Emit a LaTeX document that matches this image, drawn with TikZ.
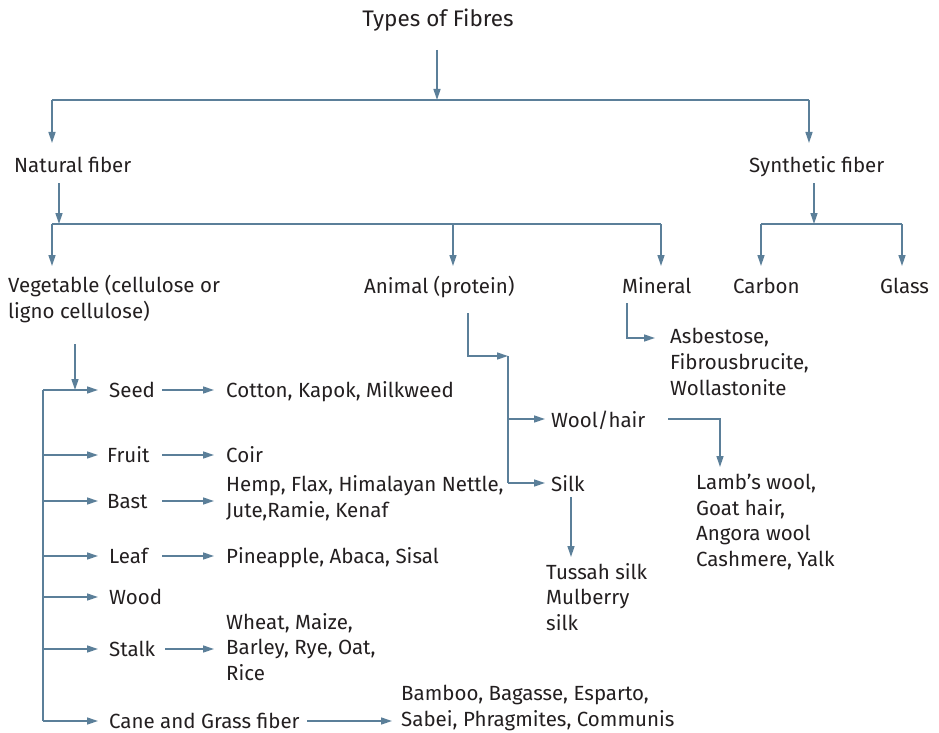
\documentclass[tikz,border=0pt]{standalone}
\usepackage{fontspec}
\setmainfont{Fira Sans}
\usetikzlibrary{arrows.meta}
\definecolor{lncol}{HTML}{5B7F99}
\definecolor{txcol}{HTML}{231F20}
\begin{document}
\begin{tikzpicture}[x=1pt,y=-1pt,
 lbl/.style={inner sep=0pt,text=txcol,font=\fontsize{20.5}{25.6}\selectfont,align=left},
 arr/.style={draw=lncol,line width=1.4pt,-{Triangle[length=11pt,width=7pt]}},
 plain/.style={draw=lncol,line width=1.4pt}]
\useasboundingbox (0,0) rectangle (939,733);
% nodes
\node[lbl,anchor=base,font=\fontsize{22.5}{27}\selectfont] (types) at (438,27) {Types of Fibres};
\node[lbl,anchor=base west] (nat) at (14,172) {Natural fiber};
\node[lbl,anchor=base west] (syn) at (749,172) {Synthetic fiber};
\node[lbl,anchor=west] (veg) at (8,299) {Vegetable (cellulose or\\ligno cellulose)};
\node[lbl,anchor=base west] (ani) at (364,293) {Animal (protein)};
\node[lbl,anchor=base west] (min) at (622,293) {Mineral};
\node[lbl,anchor=base west] (carb) at (733,293) {Carbon};
\node[lbl,anchor=base west] (glass) at (880,293) {Glass};
\node[lbl,anchor=west] (minx) at (670,362) {Asbestose,\\Fibrousbrucite,\\Wollastonite};
\node[lbl,anchor=base west] (wool) at (551,427) {Wool/hair};
\node[lbl,anchor=base west] (silk) at (551,491) {Silk};
\node[lbl,anchor=west] (woolx) at (696,522) {Lamb’s wool,\\Goat hair,\\Angora wool\\Cashmere, Yalk};
\node[lbl,anchor=west] (silkx) at (546,597) {Tussah silk\\Mulberry\\silk};
\node[lbl,anchor=base west] (seed) at (109,397) {Seed};
\node[lbl,anchor=base west] (fruit) at (107,462) {Fruit};
\node[lbl,anchor=base west] (bast) at (107,508) {Bast};
\node[lbl,anchor=base west] (leaf) at (109,563) {Leaf};
\node[lbl,anchor=base west] (wood) at (109,604) {Wood};
\node[lbl,anchor=base west] (stalk) at (109,656) {Stalk};
\node[lbl,anchor=base west] (cane) at (109,728) {Cane and Grass fiber};
\node[lbl,anchor=base west] (seedx) at (226,397) {Cotton, Kapok, Milkweed};
\node[lbl,anchor=base west] (fruitx) at (226,462) {Coir};
\node[lbl,anchor=west] (bastx) at (226,498.5) {Hemp, Flax, Himalayan Nettle,\\Jute,Ramie, Kenaf};
\node[lbl,anchor=base west] (leafx) at (226,563) {Pineapple, Abaca, Sisal};
\node[lbl,anchor=west] (stalkx) at (226,647) {Wheat, Maize,\\Barley, Rye, Oat,\\Rice};
\node[lbl,anchor=west] (canex) at (401,708) {Bamboo, Bagasse, Esparto,\\Sabei, Phragmites, Communis};
% junction coordinates
\coordinate (t1) at (437,50);
\coordinate (t2) at (437,100);
\coordinate (hL) at (52,100);
\coordinate (hR) at (809,100);
\coordinate (natTip) at (52,143);
\coordinate (synTip) at (809,143);
\coordinate (n1) at (59,183);
\coordinate (n2) at (59,224);
\coordinate (nL) at (52,224);
\coordinate (nM) at (453,224);
\coordinate (nR) at (661,224);
\coordinate (vegTip) at (52,266);
\coordinate (aniTip) at (453,266);
\coordinate (minTip) at (661,266);
\coordinate (s1) at (814,183);
\coordinate (s2) at (814,224);
\coordinate (sL) at (761,224);
\coordinate (sR) at (902,224);
\coordinate (carbTip) at (761,266);
\coordinate (glassTip) at (902,266);
% mineral
\coordinate (m1) at (627,303);
\coordinate (m2) at (627,338);
\coordinate (mTip) at (655,338);
% animal
\coordinate (a1) at (468,313);
\coordinate (a2) at (468,356);
\coordinate (a3) at (508,356);
\coordinate (a4) at (508,483);
\coordinate (woolTip) at (545,419);
\coordinate (a5) at (508,419);
\coordinate (silkTip) at (545,483);
\coordinate (w1) at (668,419);
\coordinate (w2) at (720,419);
\coordinate (woolxTip) at (720,467);
\coordinate (k1) at (571,497);
\coordinate (silkxTip) at (571,557);
% vegetable
\coordinate (v1) at (75,344);
\coordinate (v2) at (75,390);
\coordinate (tr1) at (43,390);
\coordinate (tr2) at (43,721);
% connectors
\draw[arr] (t1) -- (t2);
\draw[plain] (hL) -- (hR);
\draw[arr] (hL) -- (natTip);
\draw[arr] (hR) -- (synTip);
\draw[arr] (n1) -- (n2);
\draw[plain] (nL) -- (nR);
\draw[arr] (nL) -- (vegTip);
\draw[arr] (nM) -- (aniTip);
\draw[arr] (nR) -- (minTip);
\draw[arr] (s1) -- (s2);
\draw[plain] (sL) -- (sR);
\draw[arr] (sL) -- (carbTip);
\draw[arr] (sR) -- (glassTip);
\draw[arr] (m1) -- (m2) -- (mTip);
\draw[arr] (a1) -- (a2) -- (a3);
\draw[plain] (a3) -- (a4);
\draw[arr] (a5) -- (woolTip);
\draw[arr] (a4) -- (silkTip);
\draw[arr] (w1) -- (w2) -- (woolxTip);
\draw[arr] (k1) -- (silkxTip);
\draw[arr] (v1) -- (v2);
\draw[plain] (tr1) -- (tr2);
\foreach \yy in {390,455,501,556,597,649,721}{
  \draw[arr] (43,\yy) -- (98,\yy);
}
\draw[arr] (162,390) -- (214,390);
\draw[arr] (162,455) -- (214,455);
\draw[arr] (162,501) -- (214,501);
\draw[arr] (162,556) -- (214,556);
\draw[arr] (165,649) -- (214,649);
\draw[arr] (307,721) -- (392,721);
\end{tikzpicture}
\end{document}
